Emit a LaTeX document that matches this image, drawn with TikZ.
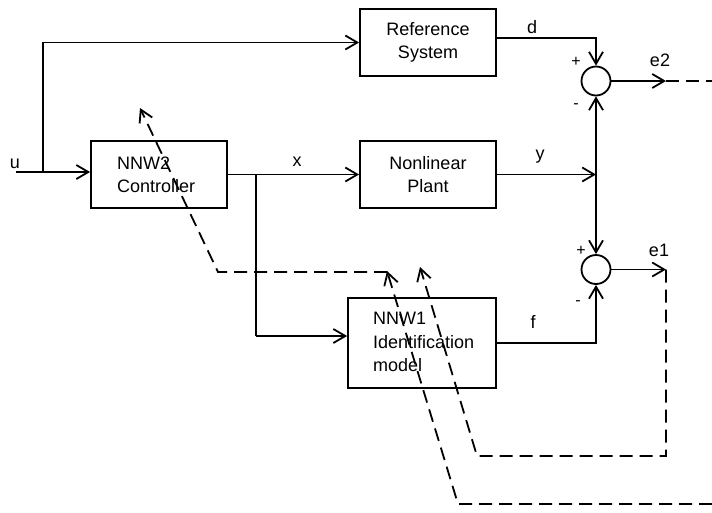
\documentclass[tikz,border=0pt]{standalone}
\usepackage{fontspec}
\setmainfont{Liberation Sans}
\usetikzlibrary{arrows.meta}
\begin{document}
\begin{tikzpicture}[x=1pt,y=-1pt,
  every node/.style={font=\fontsize{18}{23.5}\selectfont},
  blk/.style={draw,line width=1.8pt,minimum width=136pt,minimum height=67pt,inner sep=0pt,align=center},
  sumc/.style={draw,circle,line width=1.8pt,minimum size=29pt,inner sep=0pt},
  wire/.style={line width=1.8pt},
  tip/.style={-{Straight Barb[length=12pt,width=14pt]}},
  arr/.style={wire,tip},
  dsh/.style={line width=1.8pt,dash pattern=on 13pt off 7pt},
  lbl/.style={anchor=base,inner sep=0pt},
  sgn/.style={inner sep=0pt,font=\fontsize{16}{18}\selectfont}
]
\useasboundingbox (0,0) rectangle (712,512);

% blocks
\node[blk] (ref) at (428,42.5) {Reference\\System};
\node[blk] (plant) at (428,174.5) {Nonlinear\\Plant};
\node[blk] (ctl) at (159,174.5) {};
\node[align=left,anchor=west,inner sep=0pt] (ctlt) at (117,175) {NNW2\\Controller};
\node[blk,minimum width=148pt,minimum height=90pt] (idm) at (422,343) {};
\node[align=left,anchor=west,inner sep=0pt] (idmt) at (373,342) {NNW1\\Identification\\model};
\node[sumc] (s1) at (596,81) {};
\node[sumc] (s2) at (596,269.5) {};

% coordinates
\coordinate (uin) at (16,172);
\coordinate (ub) at (43,172);
\coordinate (xb) at (256,174.5);
\coordinate (xn) at (256,336);
\coordinate (dc) at (596,38);
\coordinate (yj) at (596,174.5);
\coordinate (fc) at (596,343);
\coordinate (e2a) at (666,81);
\coordinate (e2b) at (712,81);
\coordinate (e1a) at (666,269.5);
\coordinate (e1b) at (666,456);
\coordinate (e1c) at (477,456);
\coordinate (e1d) at (420,267);
\coordinate (g1) at (712,504);
\coordinate (g2) at (458,504);
\coordinate (g3) at (387,271);
\coordinate (h1) at (387,272);
\coordinate (h2) at (218,272);
\coordinate (h3) at (140,108);

% solid connectors
\draw[wire] (uin) -- (ub);
\draw[arr] (ub) -- (ub -| ctl.west);
\draw[arr] (ub) |- (ref.west);
\draw[arr] (ctl.east) -- (plant.west);
\draw[wire] (xb) -- (xn);
\draw[arr] (xn) -- (xn -| idm.west);
\draw[arr] (ref.east |- dc) -- (dc) -- (s1.north);
\draw[arr] (plant.east) -- (yj);
\draw[arr] (yj) -- (s1.south);
\draw[arr] (yj) -- (s2.north);
\draw[arr] (idm.east) -- (fc) -- (s2.south);
\draw[arr] (s1.east) -- (e2a);
\draw[arr] (s2.east) -- (e1a);

% dashed connectors
\draw[dsh] (e2a) -- (e2b);
\draw[dsh,tip] (e1a) -- (e1b) -- (e1c) -- (e1d);
\draw[dsh,tip] (g1) -- (g2) -- (g3);
\draw[dsh,tip] (h1) -- (h2) -- (h3);

% labels
\node[lbl] (lu) at (15,168) {u};
\node[lbl] (lx) at (297,166) {x};
\node[lbl] (ld) at (532,33) {d};
\node[lbl] (ly) at (540,159) {y};
\node[lbl] (le2) at (660,66) {e2};
\node[lbl] (le1) at (659,256) {e1};
\node[lbl] (lf) at (533,328) {f};
\node[sgn] (p1) at (576,62) {+};
\node[sgn] (m1) at (576,106) {-};
\node[sgn] (p2) at (581,251) {+};
\node[sgn] (m2) at (578,303) {-};
\end{tikzpicture}
\end{document}
